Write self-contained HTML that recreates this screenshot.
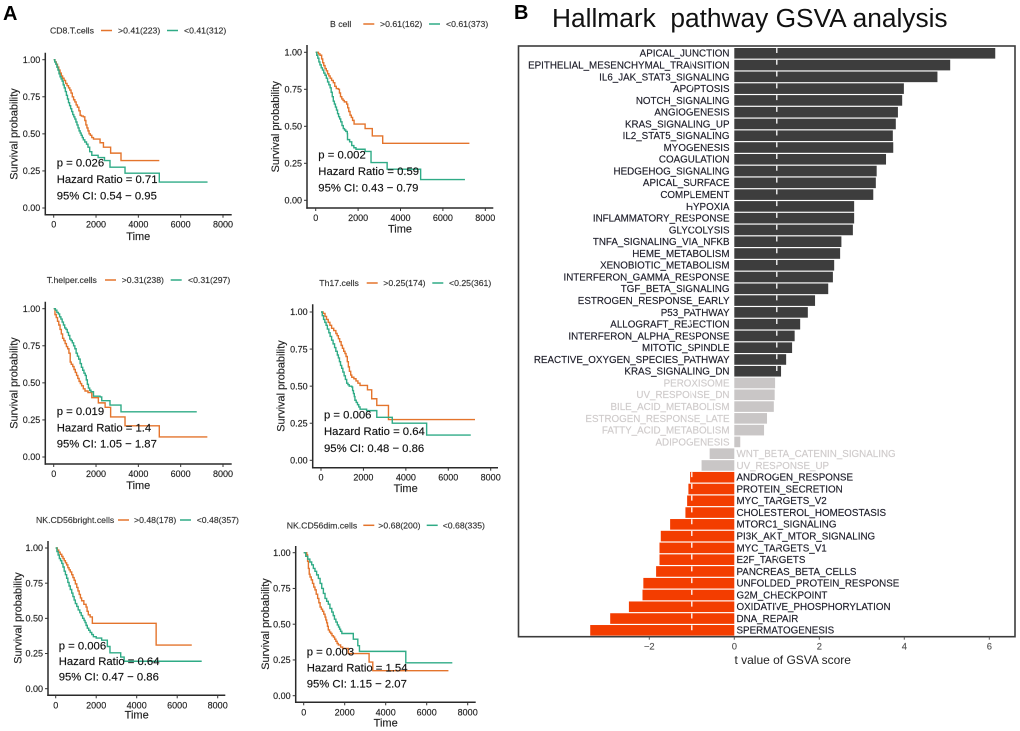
<!DOCTYPE html>
<html lang="en">
<head>
<meta charset="utf-8">
<title>Survival curves and Hallmark pathway GSVA analysis</title>
<style>
html,body{margin:0;padding:0;background:#fff;width:1020px;height:731px;overflow:hidden}
svg{display:block;font-family:"Liberation Sans",Arial,sans-serif;filter:blur(0.3px)}
text{white-space:pre}
</style>
</head>
<body>
<svg id="figure" xmlns="http://www.w3.org/2000/svg" width="1020" height="731" viewBox="0 0 1020 731">
  <rect x="0" y="0" width="1020" height="731" fill="#fff"/>
  <text x="3" y="20" font-size="20" font-weight="bold" fill="#000">A</text>
  <text x="514" y="19" font-size="20" font-weight="bold" fill="#000">B</text>
  <text x="552" y="27" font-size="26.3" fill="#111">Hallmark  pathway GSVA analysis</text>
  <text x="792.7" y="664" font-size="12" text-anchor="middle" fill="#222">t value of GSVA score</text>
  <g id="km-layer"></g>
  <g id="bar-layer"></g>
</svg>
<script>
// ---------- Kaplan-Meier data (days, survival probability) ----------
const cd8HighTime=[0,60,120,180,240,300,360,420,490,560,630,700,760,820,880,940,1000,1060,1120,1190,1250,1310,1400,1470,1520,1570,1620,1670,1730,1800,1880,2190,2350,2690,3180,4990];
const cd8HighSurv=[1,.985,.97,.95,.93,.91,.89,.875,.86,.84,.825,.81,.795,.775,.75,.73,.715,.695,.68,.655,.625,.62,.615,.59,.56,.54,.52,.50,.49,.475,.465,.44,.41,.37,.32,.32];
const cd8LowTime=[0,50,100,150,200,250,300,350,400,450,500,550,600,650,700,750,800,850,900,950,1000,1050,1100,1150,1200,1250,1300,1350,1400,1470,1550,1620,1700,1800,2100,2400,2660,3370,4990,7270];
const cd8LowSurv=[1,.985,.97,.95,.93,.905,.885,.87,.855,.83,.81,.785,.76,.735,.71,.69,.67,.65,.63,.615,.60,.58,.56,.54,.52,.505,.49,.475,.46,.445,.43,.41,.38,.355,.34,.32,.275,.235,.175,.175];

const bHighTime=[0,130,200,280,330,380,440,500,560,620,680,750,830,900,970,1070,1120,1170,1230,1290,1350,1460,1510,1560,1620,1680,1740,1810,2330,2670,3160,7250];
const bHighSurv=[1,.99,.98,.955,.93,.91,.89,.875,.855,.84,.825,.81,.795,.77,.755,.75,.725,.70,.685,.675,.665,.65,.625,.60,.575,.56,.54,.515,.485,.435,.385,.385];
const bLowTime=[0,50,100,150,200,260,320,380,440,500,560,620,680,730,780,830,880,930,980,1030,1080,1130,1180,1240,1300,1360,1420,1490,1500,1600,1700,1800,1900,2330,2610,3370,4950,7040];
const bLowSurv=[1,.98,.96,.935,.915,.895,.88,.86,.845,.825,.80,.78,.76,.73,.70,.67,.65,.63,.61,.585,.565,.55,.53,.505,.485,.475,.465,.45,.41,.395,.37,.355,.345,.33,.255,.21,.14,.14];

const helperHighTime=[0,60,120,180,240,300,360,420,480,540,600,660,720,780,830,900,960,1020,1080,1140,1200,1260,1320,1400,1480,1620,1800,2110,2430,2690,3370,4990,7260];
const helperHighSurv=[1,.96,.94,.915,.89,.86,.83,.80,.785,.765,.745,.73,.70,.64,.625,.61,.59,.57,.55,.53,.51,.495,.48,.46,.445,.435,.40,.365,.335,.27,.21,.135,.135];
const helperLowTime=[0,80,150,220,280,340,400,460,520,580,640,700,760,820,880,940,1000,1060,1120,1180,1250,1310,1370,1430,1490,1540,1590,1640,1700,1760,1880,2190,2270,2660,3180,6760];
const helperLowSurv=[1,.99,.975,.965,.945,.93,.91,.89,.87,.86,.84,.82,.795,.785,.77,.75,.73,.70,.68,.66,.63,.605,.585,.565,.55,.52,.49,.465,.45,.44,.41,.405,.38,.35,.305,.305];

const th17HighTime=[0,100,190,260,340,420,500,600,700,760,820,880,950,1010,1070,1130,1180,1240,1290,1340,1400,1450,1550,1650,1740,1840,2190,2390,2630,3180,7260];
const th17HighSurv=[1,.99,.97,.95,.93,.91,.89,.875,.855,.84,.82,.80,.775,.755,.735,.72,.70,.665,.63,.60,.575,.56,.55,.535,.52,.505,.475,.415,.37,.275,.275];
const th17LowTime=[0,60,120,180,240,300,370,430,500,570,640,700,770,820,870,920,975,1030,1090,1150,1210,1270,1330,1450,1490,1530,1570,1600,1660,1720,1780,1840,2150,2630,3360,4980,7060];
const th17LowSurv=[1,.975,.95,.93,.91,.885,.86,.835,.81,.785,.76,.735,.71,.69,.665,.64,.62,.595,.57,.545,.52,.51,.50,.495,.47,.45,.43,.405,.39,.375,.36,.345,.335,.29,.25,.17,.17];

const brightHighTime=[0,80,150,220,300,360,420,480,540,600,660,720,790,850,910,970,1040,1100,1160,1220,1280,1390,1500,1550,1610,1700,1810,4960,6720];
const brightHighSurv=[1,.985,.97,.955,.94,.925,.91,.895,.88,.86,.845,.83,.81,.79,.77,.745,.72,.695,.67,.645,.625,.60,.58,.55,.525,.51,.465,.31,.31];
const brightLowTime=[0,60,120,180,240,300,360,420,480,540,600,660,720,790,850,910,970,1040,1110,1190,1260,1330,1400,1450,1500,1560,1630,1700,1780,1860,2000,2270,2550,2680,3210,3380,7210];
const brightLowSurv=[1,.975,.95,.925,.91,.89,.865,.835,.81,.785,.755,.73,.705,.68,.655,.63,.605,.585,.56,.54,.52,.50,.485,.47,.45,.43,.415,.40,.385,.37,.36,.345,.30,.255,.225,.195,.195];

const dimHighTime=[0,150,190,230,270,310,370,430,490,550,610,680,740,800,860,920,980,1040,1080,1120,1160,1200,1260,1320,1380,1450,1510,1570,1630,1690,1800,1900,2180,3190,3370,7060];
const dimHighSurv=[1,.985,.94,.89,.85,.83,.81,.785,.76,.74,.71,.68,.65,.62,.605,.59,.57,.55,.53,.51,.485,.46,.445,.435,.42,.41,.395,.38,.365,.355,.34,.33,.295,.235,.175,.175];
const dimLowTime=[0,100,200,300,390,470,550,630,715,800,880,960,1040,1120,1200,1280,1370,1440,1500,1570,1640,1700,1750,1800,1860,2420,2640,2720,4980,7250];
const dimLowSurv=[1,.975,.955,.935,.915,.89,.87,.845,.82,.785,.75,.715,.68,.66,.64,.61,.585,.56,.535,.515,.495,.48,.465,.45,.435,.395,.35,.31,.23,.23];

const timeTicks=[0,2000,4000,6000,8000];
const survTicks=[0,0.25,0.5,0.75,1];

// ---------- GSVA data ----------
const pathwayNames=["APICAL_JUNCTION","EPITHELIAL_MESENCHYMAL_TRANSITION","IL6_JAK_STAT3_SIGNALING","APOPTOSIS","NOTCH_SIGNALING","ANGIOGENESIS","KRAS_SIGNALING_UP","IL2_STAT5_SIGNALING","MYOGENESIS","COAGULATION","HEDGEHOG_SIGNALING","APICAL_SURFACE","COMPLEMENT","HYPOXIA","INFLAMMATORY_RESPONSE","GLYCOLYSIS","TNFA_SIGNALING_VIA_NFKB","HEME_METABOLISM","XENOBIOTIC_METABOLISM","INTERFERON_GAMMA_RESPONSE","TGF_BETA_SIGNALING","ESTROGEN_RESPONSE_EARLY","P53_PATHWAY","ALLOGRAFT_REJECTION","INTERFERON_ALPHA_RESPONSE","MITOTIC_SPINDLE","REACTIVE_OXYGEN_SPECIES_PATHWAY","KRAS_SIGNALING_DN","PEROXISOME","UV_RESPONSE_DN","BILE_ACID_METABOLISM","ESTROGEN_RESPONSE_LATE","FATTY_ACID_METABOLISM","ADIPOGENESIS","WNT_BETA_CATENIN_SIGNALING","UV_RESPONSE_UP","ANDROGEN_RESPONSE","PROTEIN_SECRETION","MYC_TARGETS_V2","CHOLESTEROL_HOMEOSTASIS","MTORC1_SIGNALING","PI3K_AKT_MTOR_SIGNALING","MYC_TARGETS_V1","E2F_TARGETS","PANCREAS_BETA_CELLS","UNFOLDED_PROTEIN_RESPONSE","G2M_CHECKPOINT","OXIDATIVE_PHOSPHORYLATION","DNA_REPAIR","SPERMATOGENESIS"];
const pathwayT=[6.14,5.08,4.78,3.99,3.95,3.85,3.80,3.73,3.74,3.57,3.35,3.33,3.27,2.82,2.82,2.79,2.52,2.49,2.35,2.32,2.21,1.90,1.73,1.55,1.42,1.36,1.22,1.10,0.96,0.95,0.93,0.77,0.70,0.14,-0.58,-0.77,-1.04,-1.08,-1.11,-1.15,-1.51,-1.73,-1.76,-1.76,-1.84,-2.14,-2.16,-2.48,-2.92,-3.39];
const tTicks=[-2,0,2,4,6];
const tThresholds=[-1,1];

// ---------- Panel definitions ----------
const panelsDef=[
 {id:"cd8",legend:"CD8.T.cells",hi:">0.41(223)",lo:"<0.41(312)",stats:["p = 0.026","Hazard Ratio = 0.71","95% CI: 0.54 − 0.95"],
  hT:cd8HighTime,hS:cd8HighSurv,lT:cd8LowTime,lS:cd8LowSurv,hc:"#e4742c",lc:"#2fab86",
  g:{ax:45.3,ay:214.7,top:52.7,right:231.7,x0:53.7,x8:223,y1:59.7,y0:208,lgY:30.5,lgT:50,l1:101,t1:118,l2:167,t2:184,sx:56.7,sy:[162.7,179,195.7],tx:138.3,ty:236,yx:13.3,yy:134}},
 {id:"b-cell",legend:"B cell",hi:">0.61(162)",lo:"<0.61(373)",stats:["p = 0.002","Hazard Ratio = 0.59","95% CI: 0.43 − 0.79"],
  hT:bHighTime,hS:bHighSurv,lT:bLowTime,lS:bLowSurv,hc:"#e4742c",lc:"#2fab86",
  g:{ax:307,ay:208,top:45,right:493.3,x0:315.7,x8:485.3,y1:52.3,y0:200.3,lgY:24,lgT:330,l1:363.3,t1:380,l2:429,t2:446,sx:318.3,sy:[154.7,171,187.7],tx:400,ty:228.7,yx:275,yy:126.7}},
 {id:"t-helper",legend:"T.helper.cells",hi:">0.31(238)",lo:"<0.31(297)",stats:["p = 0.019","Hazard Ratio = 1.4","95% CI: 1.05 − 1.87"],
  hT:helperHighTime,hS:helperHighSurv,lT:helperLowTime,lS:helperLowSurv,hc:"#e4742c",lc:"#2fab86",
  g:{ax:45.3,ay:464,top:301.7,right:231.7,x0:53.7,x8:223,y1:308.7,y0:457,lgY:280,lgT:46.7,l1:105,t1:121.7,l2:170.7,t2:188,sx:56.7,sy:[411,427.3,443.7],tx:138.3,ty:485,yx:13.3,yy:383}},
 {id:"th17",legend:"Th17.cells",hi:">0.25(174)",lo:"<0.25(361)",stats:["p = 0.006","Hazard Ratio = 0.64","95% CI: 0.48 − 0.86"],
  hT:th17HighTime,hS:th17HighSurv,lT:th17LowTime,lS:th17LowSurv,hc:"#e4742c",lc:"#2fab86",
  g:{ax:312.7,ay:467.7,top:304.3,right:498,x0:321,x8:490.7,y1:312,y0:460.3,lgY:283,lgT:319.3,l1:366.7,t1:383.3,l2:432.3,t2:449,sx:324,sy:[414.7,431,448],tx:405.7,ty:488,yx:280.7,yy:386}},
 {id:"nk-bright",legend:"NK.CD56bright.cells",hi:">0.48(178)",lo:"<0.48(357)",stats:["p = 0.006","Hazard Ratio = 0.64","95% CI: 0.47 − 0.86"],
  hT:brightHighTime,hS:brightHighSurv,lT:brightLowTime,lS:brightLowSurv,hc:"#e4742c",lc:"#2fab86",
  g:{ax:48,ay:695.3,top:541,right:225.3,x0:55.7,x8:217.7,y1:548,y0:688.7,lgY:520,lgT:36,l1:118,t1:134,l2:180,t2:196.7,sx:58.7,sy:[645.3,661,676.7],tx:136.7,ty:714.3,yx:17.3,yy:618}},
 {id:"nk-dim",legend:"NK.CD56dim.cells",hi:">0.68(200)",lo:"<0.68(335)",stats:["p = 0.003","Hazard Ratio = 1.54","95% CI: 1.15 − 2.07"],
  hT:dimHighTime,hS:dimHighSurv,lT:dimLowTime,lS:dimLowSurv,hc:"#e4742c",lc:"#2fab86",
  g:{ax:295.7,ay:702.3,top:546,right:475.7,x0:303.7,x8:467.7,y1:552.7,y0:695.7,lgY:525.3,lgT:286.7,l1:363.3,t1:378.3,l2:426.7,t2:442.7,sx:306.7,sy:[651.7,667.3,683.3],tx:385.7,ty:722.3,yx:265,yy:624}}
];

const NS="http://www.w3.org/2000/svg";
function make(tag,attrs,parent,txt){
  const n=document.createElementNS(NS,tag);
  for(const k in attrs){n.setAttribute(k,attrs[k]);}
  if(txt!==undefined){
    n.textContent=txt;
    n.setAttribute("stroke",attrs.fill);
    n.setAttribute("stroke-width","0.15");
  }
  parent.appendChild(n);
  return n;
}
function stepPath(ts,ss,fx,fy){
  let d="M"+fx(ts[0]).toFixed(2)+" "+fy(ss[0]).toFixed(2);
  for(let i=1;i<ts.length;i++){
    d+="H"+fx(ts[i]).toFixed(2)+"V"+fy(ss[i]).toFixed(2);
  }
  return d;
}

const kmLayer=document.getElementById("km-layer");
panelsDef.forEach(function(p){
  const g=p.g;
  const fx=function(t){return g.x0+(g.x8-g.x0)*t/8000;};
  const fy=function(s){return g.y0+(g.y1-g.y0)*s;};
  const grp=make("g",{},kmLayer);
  
  

  // legend
  const lgT=make("text",{x:g.lgT,y:g.lgY+3,"font-size":8.7,fill:"#333"},grp,p.legend);
  
  
  const l1=make("line",{x1:g.l1,x2:g.l1+11,y1:g.lgY,y2:g.lgY,stroke:p.hc,"stroke-width":1.5},grp);
  
  
  const t1=make("text",{x:g.t1,y:g.lgY+3,"font-size":8.7,fill:"#333"},grp,p.hi);
  
  
  const l2=make("line",{x1:g.l2,x2:g.l2+11,y1:g.lgY,y2:g.lgY,stroke:p.lc,"stroke-width":1.5},grp);
  
  
  const t2=make("text",{x:g.t2,y:g.lgY+3,"font-size":8.7,fill:"#333"},grp,p.lo);
  
  

  // axes
  const ya=make("line",{x1:g.ax,x2:g.ax,y1:g.top,y2:g.ay+.7,stroke:"#2a2a2a","stroke-width":1.5},grp);
  
  
  const xa=make("line",{x1:g.ax-.7,x2:g.right,y1:g.ay,y2:g.ay,stroke:"#2a2a2a","stroke-width":1.5},grp);
  
  

  timeTicks.forEach(function(t){
    const tk=make("line",{x1:fx(t),x2:fx(t),y1:g.ay,y2:g.ay+3,stroke:"#333","stroke-width":1},grp);
    
    
    const lb=make("text",{x:fx(t),y:g.ay+13,"font-size":9,"text-anchor":"middle",fill:"#222"},grp,String(t));
    
    
  });
  survTicks.forEach(function(s){
    const tk=make("line",{x1:g.ax-3,x2:g.ax,y1:fy(s),y2:fy(s),stroke:"#333","stroke-width":1},grp);
    
    
    const lb=make("text",{x:g.ax-5,y:fy(s)+3.2,"font-size":9,"text-anchor":"end",fill:"#222"},grp,s.toFixed(2));
    
    
  });

  const xt=make("text",{x:g.tx,y:g.ty+4,"font-size":11,"text-anchor":"middle",fill:"#222"},grp,"Time");
  
  
  const yt=make("text",{x:0,y:0,transform:"translate("+(g.yx+4)+" "+g.yy+") rotate(-90)","font-size":10.9,"text-anchor":"middle",fill:"#222"},grp,"Survival probability");
  
  

  // curves
  const hc=make("path",{d:stepPath(p.hT,p.hS,fx,fy),fill:"none",stroke:p.hc,"stroke-width":1.4},grp);
  
  
  const lc=make("path",{d:stepPath(p.lT,p.lS,fx,fy),fill:"none",stroke:p.lc,"stroke-width":1.4},grp);
  
  

  // statistics
  p.stats.forEach(function(s,i){
    const st=make("text",{x:g.sx,y:g.sy[i]+4,"font-size":11.3,fill:"#111"},grp,s);
    
    
  });
});

// ---------- GSVA bar chart ----------
const bars=document.getElementById("bar-layer");
const frame={l:518.5,r:1015,t:46,b:636.7};
const fxT=function(v){return 734.3+42.5*v;};
const rowY=function(i){return 53.3+11.776*i;};
const barH=10.6;
function barColor(v){return v>1?"#3d3d3d":(v<-1?"#f33d00":"#c9c6c6");}
function labelColor(v){return Math.abs(v)>1?"#1c1c28":"#cfcbcb";}

pathwayNames.forEach(function(name,i){
  const v=pathwayT[i];
  const x=Math.min(fxT(0),fxT(v));
  const w=Math.abs(fxT(v)-fxT(0));
  const r=make("rect",{x:x,y:rowY(i)-barH/2,width:w,height:barH,fill:barColor(v)},bars);
  
  
  const t=make("text",{x:v>=0?729.5:736.5,y:rowY(i)+3.4,"font-size":9.8,"text-anchor":v>=0?"end":"start",fill:labelColor(v)},bars,name);
  
  
});
tThresholds.forEach(function(v){
  const d=make("line",{x1:fxT(v),x2:fxT(v),y1:frame.t+2,y2:frame.b,stroke:"#fff","stroke-width":1.3,"stroke-dasharray":"5 6.78"},bars);
  
  
});
const fr=make("rect",{x:frame.l,y:frame.t,width:frame.r-frame.l,height:frame.b-frame.t,fill:"none",stroke:"#3c3c3c","stroke-width":1.6},bars);


tTicks.forEach(function(v){
  const tk=make("line",{x1:fxT(v),x2:fxT(v),y1:frame.b,y2:frame.b+3,stroke:"#555","stroke-width":1},bars);
  
  
  const lb=make("text",{x:fxT(v),y:649.5,"font-size":9.4,"text-anchor":"middle",fill:"#555"},bars,v<0?"−"+Math.abs(v):String(v));
  
  
});
</script>
</body>
</html>
